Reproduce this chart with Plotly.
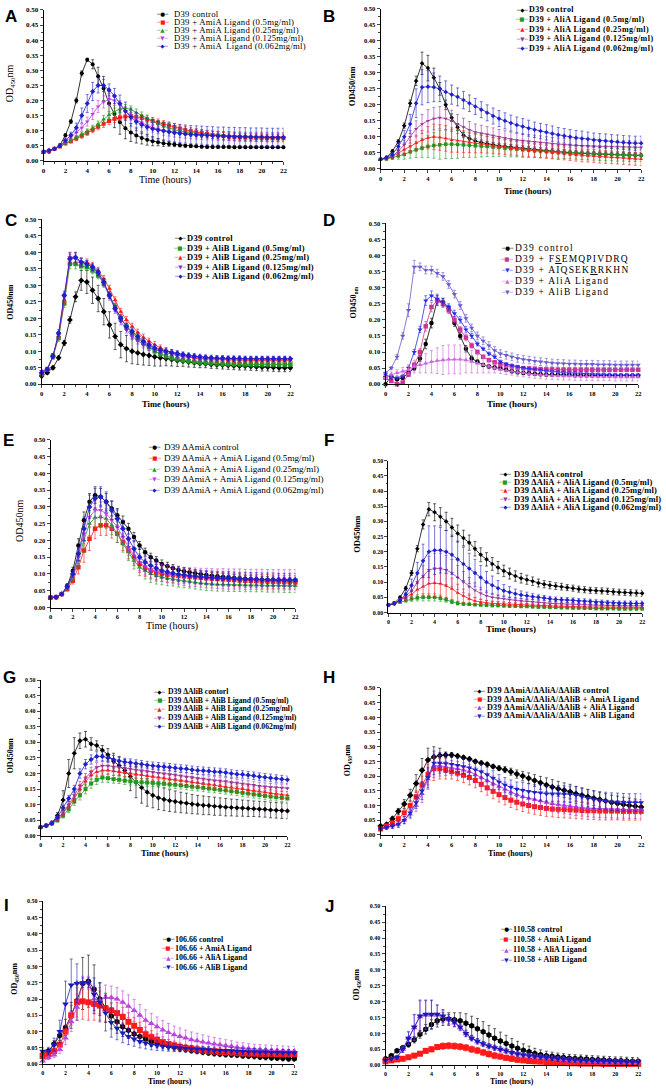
import plotly.graph_objects as go

W, H = 666, 1091
SERIF = "Liberation Serif, Times New Roman, serif"
SANS = "Liberation Sans, Arial, sans-serif"

TIME = [0, 0.5, 1, 1.5, 2, 2.5, 3, 3.5, 4, 4.5,
        5, 5.5, 6, 6.5, 7, 7.5, 8, 8.5, 9, 9.5,
        10, 10.5, 11, 11.5, 12, 12.5, 13, 13.5, 14, 14.5,
        15, 15.5, 16, 16.5, 17, 17.5, 18, 18.5, 19, 19.5,
        20, 20.5, 21, 21.5, 22]
X_TICKS = [0, 2, 4, 6, 8, 10, 12, 14, 16, 18, 20, 22]
Y_TICKS = [0, 0.05, 0.1, 0.15, 0.2, 0.25, 0.3, 0.35, 0.4, 0.45, 0.5]

# ---- panel A: D39 + AmiA ligand
A_CTRL = [0.030, 0.030, 0.040, 0.052, 0.085, 0.130, 0.200, 0.290, 0.335, 0.320,
          0.280, 0.240, 0.190, 0.155, 0.128, 0.108, 0.094, 0.084, 0.076, 0.070,
          0.065, 0.062, 0.058, 0.056, 0.054, 0.052, 0.050, 0.049, 0.048, 0.047,
          0.046, 0.046, 0.046, 0.046, 0.046, 0.045, 0.045, 0.045, 0.045, 0.045,
          0.045, 0.045, 0.045, 0.045, 0.045]
A_RED = [0.030, 0.033, 0.040, 0.048, 0.058, 0.065, 0.074, 0.083, 0.093, 0.103,
         0.113, 0.123, 0.132, 0.139, 0.144, 0.147, 0.148, 0.146, 0.142, 0.137,
         0.132, 0.127, 0.122, 0.117, 0.112, 0.107, 0.102, 0.098, 0.095, 0.092,
         0.089, 0.086, 0.084, 0.082, 0.080, 0.079, 0.078, 0.077, 0.077, 0.076,
         0.076, 0.075, 0.075, 0.075, 0.075]
A_GREEN = [0.030, 0.033, 0.040, 0.048, 0.058, 0.067, 0.077, 0.087, 0.097, 0.108,
           0.122, 0.138, 0.152, 0.163, 0.172, 0.175, 0.170, 0.160, 0.150, 0.140,
           0.130, 0.122, 0.115, 0.108, 0.103, 0.099, 0.096, 0.093, 0.091, 0.089,
           0.087, 0.086, 0.085, 0.084, 0.083, 0.082, 0.081, 0.080, 0.080, 0.079,
           0.079, 0.078, 0.078, 0.078, 0.078]
A_PURPLE = [0.030, 0.033, 0.040, 0.050, 0.063, 0.078, 0.093, 0.110, 0.130, 0.155,
            0.180, 0.195, 0.205, 0.200, 0.185, 0.165, 0.150, 0.137, 0.126, 0.117,
            0.110, 0.105, 0.100, 0.097, 0.094, 0.092, 0.090, 0.088, 0.087, 0.086,
            0.085, 0.084, 0.083, 0.082, 0.082, 0.081, 0.081, 0.080, 0.080, 0.080,
            0.080, 0.080, 0.079, 0.079, 0.079]
A_BLUE = [0.030, 0.035, 0.040, 0.050, 0.068, 0.085, 0.110, 0.150, 0.190, 0.230,
          0.250, 0.250, 0.235, 0.215, 0.190, 0.165, 0.145, 0.130, 0.120, 0.112,
          0.106, 0.102, 0.099, 0.096, 0.093, 0.091, 0.089, 0.087, 0.086, 0.085,
          0.084, 0.083, 0.082, 0.082, 0.081, 0.081, 0.080, 0.080, 0.079, 0.079,
          0.079, 0.078, 0.078, 0.078, 0.078]
A_CTRL_ERR = [0.003, 0.003, 0.003, 0.004, 0.005, 0.006, 0.008, 0.008, 0.005, 0.015,
              0.030, 0.040, 0.040, 0.045, 0.040, 0.035, 0.030, 0.025, 0.020, 0.018,
              0.015, 0.012, 0.010, 0.008, 0.007, 0.006, 0.005, 0.005, 0.004, 0.004,
              0.004, 0.004, 0.004, 0.004, 0.004, 0.004, 0.004, 0.004, 0.004, 0.004,
              0.004, 0.004, 0.004, 0.004, 0.004]
A_LIG_ERR = [0.003, 0.003, 0.004, 0.005, 0.005, 0.006, 0.007, 0.008, 0.009, 0.010,
             0.010, 0.012, 0.012, 0.012, 0.012, 0.012, 0.012, 0.012, 0.012, 0.012,
             0.012, 0.012, 0.012, 0.012, 0.012, 0.012, 0.012, 0.012, 0.012, 0.012,
             0.012, 0.012, 0.012, 0.012, 0.012, 0.012, 0.012, 0.012, 0.012, 0.012,
             0.012, 0.012, 0.012, 0.012, 0.012]
A_PURPLE_ERR = [0.003, 0.003, 0.004, 0.005, 0.006, 0.008, 0.010, 0.012, 0.015, 0.018,
                0.020, 0.020, 0.018, 0.016, 0.015, 0.015, 0.015, 0.015, 0.015, 0.015,
                0.015, 0.015, 0.015, 0.015, 0.015, 0.015, 0.015, 0.015, 0.015, 0.015,
                0.015, 0.015, 0.015, 0.015, 0.015, 0.015, 0.015, 0.015, 0.015, 0.015,
                0.015, 0.015, 0.015, 0.015, 0.015]
A_BLUE_ERR = [0.003, 0.003, 0.004, 0.005, 0.008, 0.010, 0.015, 0.025, 0.030, 0.030,
              0.025, 0.020, 0.020, 0.025, 0.028, 0.030, 0.030, 0.030, 0.030, 0.030,
              0.030, 0.030, 0.030, 0.030, 0.030, 0.030, 0.030, 0.030, 0.030, 0.030,
              0.030, 0.030, 0.030, 0.030, 0.030, 0.030, 0.030, 0.030, 0.030, 0.030,
              0.030, 0.030, 0.030, 0.030, 0.030]

# ---- panel B: D39 + AliA ligand
B_CTRL = [0.030, 0.035, 0.055, 0.085, 0.135, 0.205, 0.275, 0.330, 0.315, 0.285,
          0.250, 0.200, 0.160, 0.130, 0.105, 0.095, 0.087, 0.082, 0.078, 0.075,
          0.072, 0.070, 0.068, 0.066, 0.064, 0.062, 0.060, 0.058, 0.057, 0.056,
          0.054, 0.052, 0.050, 0.049, 0.048, 0.047, 0.046, 0.045, 0.045, 0.044,
          0.044, 0.043, 0.043, 0.042, 0.042]
B_GREEN = [0.030, 0.031, 0.035, 0.040, 0.045, 0.053, 0.060, 0.065, 0.070, 0.073,
           0.075, 0.077, 0.077, 0.076, 0.075, 0.074, 0.072, 0.071, 0.070, 0.068,
           0.067, 0.065, 0.063, 0.062, 0.060, 0.059, 0.057, 0.056, 0.055, 0.054,
           0.053, 0.052, 0.051, 0.050, 0.049, 0.048, 0.047, 0.046, 0.045, 0.045,
           0.044, 0.044, 0.043, 0.043, 0.042]
B_RED = [0.030, 0.032, 0.038, 0.050, 0.060, 0.070, 0.080, 0.090, 0.097, 0.100,
         0.098, 0.095, 0.090, 0.088, 0.085, 0.083, 0.080, 0.078, 0.075, 0.072,
         0.070, 0.068, 0.065, 0.063, 0.060, 0.058, 0.057, 0.055, 0.053, 0.051,
         0.049, 0.048, 0.046, 0.044, 0.042, 0.041, 0.040, 0.038, 0.037, 0.036,
         0.035, 0.034, 0.032, 0.031, 0.030]
B_PURPLE = [0.030, 0.033, 0.040, 0.055, 0.075, 0.100, 0.125, 0.140, 0.150, 0.157,
            0.160, 0.157, 0.150, 0.140, 0.130, 0.122, 0.115, 0.111, 0.108, 0.104,
            0.100, 0.096, 0.093, 0.090, 0.088, 0.086, 0.084, 0.082, 0.080, 0.078,
            0.076, 0.075, 0.074, 0.073, 0.072, 0.071, 0.071, 0.070, 0.070, 0.069,
            0.069, 0.068, 0.068, 0.067, 0.067]
B_BLUE = [0.030, 0.035, 0.045, 0.070, 0.100, 0.140, 0.205, 0.255, 0.257, 0.255,
          0.250, 0.240, 0.232, 0.225, 0.215, 0.205, 0.195, 0.185, 0.175, 0.165,
          0.157, 0.150, 0.143, 0.137, 0.132, 0.127, 0.122, 0.118, 0.114, 0.110,
          0.106, 0.103, 0.100, 0.097, 0.095, 0.093, 0.090, 0.088, 0.087, 0.085,
          0.084, 0.082, 0.081, 0.080, 0.080]
B_CTRL_ERR = [0.003, 0.003, 0.005, 0.006, 0.008, 0.010, 0.015, 0.035, 0.040, 0.030,
              0.020, 0.015, 0.012, 0.010, 0.008, 0.008, 0.008, 0.008, 0.008, 0.008,
              0.008, 0.008, 0.008, 0.008, 0.008, 0.008, 0.008, 0.008, 0.008, 0.008,
              0.008, 0.008, 0.008, 0.008, 0.008, 0.008, 0.008, 0.008, 0.008, 0.008,
              0.008, 0.008, 0.008, 0.008, 0.008]
B_GREEN_ERR = [0.003, 0.004, 0.006, 0.010, 0.015, 0.020, 0.025, 0.030, 0.035, 0.040,
               0.045, 0.045, 0.045, 0.043, 0.040, 0.038, 0.036, 0.034, 0.032, 0.030,
               0.028, 0.027, 0.026, 0.025, 0.024, 0.023, 0.022, 0.022, 0.021, 0.021,
               0.020, 0.020, 0.020, 0.020, 0.020, 0.020, 0.020, 0.020, 0.020, 0.020,
               0.020, 0.020, 0.020, 0.020, 0.020]
B_RED_ERR = [0.003, 0.004, 0.006, 0.010, 0.015, 0.020, 0.025, 0.030, 0.035, 0.040,
             0.040, 0.040, 0.038, 0.036, 0.034, 0.032, 0.030, 0.028, 0.026, 0.025,
             0.024, 0.023, 0.022, 0.022, 0.021, 0.021, 0.020, 0.020, 0.020, 0.020,
             0.020, 0.020, 0.020, 0.020, 0.020, 0.020, 0.020, 0.020, 0.020, 0.020,
             0.020, 0.020, 0.020, 0.020, 0.020]
B_PURPLE_ERR = [0.003, 0.004, 0.006, 0.010, 0.015, 0.020, 0.025, 0.030, 0.035, 0.035,
                0.035, 0.035, 0.033, 0.030, 0.028, 0.026, 0.025, 0.025, 0.024, 0.024,
                0.023, 0.023, 0.022, 0.022, 0.022, 0.021, 0.021, 0.021, 0.020, 0.020,
                0.020, 0.020, 0.020, 0.020, 0.020, 0.020, 0.020, 0.020, 0.020, 0.020,
                0.020, 0.020, 0.020, 0.020, 0.020]
B_BLUE_ERR = [0.003, 0.005, 0.008, 0.012, 0.020, 0.030, 0.045, 0.055, 0.050, 0.045,
              0.040, 0.035, 0.030, 0.028, 0.027, 0.026, 0.025, 0.025, 0.025, 0.025,
              0.025, 0.025, 0.025, 0.025, 0.025, 0.025, 0.024, 0.024, 0.024, 0.024,
              0.023, 0.023, 0.023, 0.023, 0.023, 0.022, 0.022, 0.022, 0.022, 0.022,
              0.022, 0.022, 0.022, 0.022, 0.022]

# ---- panel C: D39 + AliB ligand
C_CTRL = [0.025, 0.035, 0.050, 0.080, 0.125, 0.195, 0.265, 0.315, 0.310, 0.285,
          0.260, 0.220, 0.180, 0.145, 0.120, 0.108, 0.100, 0.095, 0.090, 0.087,
          0.083, 0.080, 0.078, 0.075, 0.072, 0.070, 0.067, 0.065, 0.063, 0.062,
          0.060, 0.059, 0.058, 0.057, 0.056, 0.055, 0.055, 0.054, 0.053, 0.052,
          0.052, 0.051, 0.050, 0.050, 0.050]
C_GREEN = [0.030, 0.045, 0.085, 0.140, 0.245, 0.365, 0.365, 0.358, 0.355, 0.345,
           0.330, 0.305, 0.270, 0.235, 0.200, 0.175, 0.155, 0.140, 0.125, 0.112,
           0.100, 0.092, 0.085, 0.080, 0.076, 0.073, 0.070, 0.068, 0.066, 0.065,
           0.064, 0.063, 0.062, 0.062, 0.061, 0.061, 0.060, 0.060, 0.060, 0.060,
           0.060, 0.060, 0.060, 0.060, 0.060]
C_RED = [0.030, 0.045, 0.085, 0.145, 0.255, 0.385, 0.385, 0.372, 0.370, 0.360,
         0.345, 0.320, 0.290, 0.255, 0.220, 0.195, 0.175, 0.157, 0.142, 0.130,
         0.120, 0.110, 0.102, 0.096, 0.090, 0.086, 0.083, 0.080, 0.078, 0.077,
         0.076, 0.075, 0.075, 0.074, 0.073, 0.073, 0.072, 0.072, 0.072, 0.072,
         0.072, 0.072, 0.072, 0.072, 0.072]
C_PURPLE = [0.040, 0.045, 0.085, 0.150, 0.265, 0.385, 0.380, 0.370, 0.365, 0.355,
            0.335, 0.305, 0.265, 0.225, 0.190, 0.165, 0.145, 0.132, 0.120, 0.112,
            0.105, 0.100, 0.095, 0.091, 0.087, 0.084, 0.082, 0.080, 0.079, 0.078,
            0.077, 0.077, 0.076, 0.076, 0.076, 0.076, 0.076, 0.076, 0.076, 0.076,
            0.076, 0.076, 0.076, 0.076, 0.076]
C_BLUE = [0.035, 0.045, 0.085, 0.155, 0.270, 0.380, 0.385, 0.370, 0.365, 0.355,
          0.340, 0.310, 0.270, 0.230, 0.200, 0.175, 0.160, 0.145, 0.130, 0.120,
          0.110, 0.104, 0.100, 0.096, 0.093, 0.090, 0.087, 0.085, 0.083, 0.081,
          0.080, 0.079, 0.079, 0.078, 0.078, 0.078, 0.077, 0.077, 0.077, 0.077,
          0.077, 0.077, 0.077, 0.077, 0.077]
C_CTRL_ERR = [0.005, 0.005, 0.005, 0.006, 0.008, 0.010, 0.015, 0.030, 0.035, 0.040,
              0.040, 0.040, 0.040, 0.040, 0.040, 0.040, 0.038, 0.035, 0.032, 0.030,
              0.028, 0.025, 0.022, 0.020, 0.018, 0.016, 0.015, 0.014, 0.013, 0.012,
              0.012, 0.012, 0.012, 0.012, 0.012, 0.012, 0.012, 0.012, 0.012, 0.012,
              0.012, 0.012, 0.012, 0.012, 0.012]
C_LIG_ERR = [0.005, 0.006, 0.008, 0.010, 0.012, 0.015, 0.015, 0.012, 0.010, 0.010,
             0.010, 0.010, 0.010, 0.010, 0.010, 0.010, 0.010, 0.010, 0.010, 0.010,
             0.010, 0.009, 0.009, 0.009, 0.009, 0.008, 0.008, 0.008, 0.008, 0.008,
             0.008, 0.008, 0.008, 0.008, 0.008, 0.008, 0.008, 0.008, 0.008, 0.008,
             0.008, 0.008, 0.008, 0.008, 0.008]

# ---- panel D: D39 + peptides
D_CTRL = [0.000, 0.025, 0.015, 0.020, 0.035, 0.050, 0.080, 0.125, 0.190, 0.260,
          0.255, 0.235, 0.190, 0.150, 0.110, 0.080, 0.070, 0.060, 0.055, 0.052,
          0.050, 0.045, 0.040, 0.037, 0.035, 0.034, 0.032, 0.031, 0.030, 0.030,
          0.029, 0.029, 0.029, 0.028, 0.028, 0.028, 0.028, 0.028, 0.027, 0.027,
          0.027, 0.027, 0.027, 0.027, 0.027]
D_FSEM = [0.020, 0.010, 0.000, 0.005, 0.030, 0.060, 0.100, 0.180, 0.240, 0.260,
          0.250, 0.230, 0.200, 0.170, 0.145, 0.120, 0.100, 0.085, 0.075, 0.068,
          0.062, 0.058, 0.055, 0.052, 0.050, 0.049, 0.048, 0.047, 0.046, 0.046,
          0.045, 0.045, 0.045, 0.045, 0.045, 0.045, 0.045, 0.045, 0.045, 0.045,
          0.045, 0.045, 0.045, 0.045, 0.045]
D_AIQS = [0.030, 0.020, 0.020, 0.025, 0.050, 0.100, 0.170, 0.260, 0.275, 0.265,
          0.255, 0.240, 0.220, 0.200, 0.170, 0.150, 0.125, 0.110, 0.095, 0.085,
          0.070, 0.063, 0.058, 0.054, 0.050, 0.047, 0.045, 0.043, 0.040, 0.038,
          0.037, 0.036, 0.035, 0.034, 0.033, 0.032, 0.031, 0.030, 0.030, 0.029,
          0.029, 0.028, 0.028, 0.028, 0.028]
D_ALIA = [0.020, 0.030, 0.035, 0.040, 0.045, 0.055, 0.060, 0.065, 0.070, 0.073,
          0.075, 0.077, 0.077, 0.077, 0.075, 0.070, 0.065, 0.060, 0.055, 0.050,
          0.045, 0.042, 0.040, 0.037, 0.035, 0.032, 0.030, 0.029, 0.028, 0.027,
          0.026, 0.025, 0.025, 0.024, 0.024, 0.024, 0.023, 0.023, 0.023, 0.023,
          0.022, 0.022, 0.022, 0.022, 0.022]
D_ALIB = [0.035, 0.050, 0.085, 0.150, 0.230, 0.365, 0.365, 0.355, 0.355, 0.345,
          0.335, 0.310, 0.280, 0.245, 0.205, 0.175, 0.150, 0.135, 0.120, 0.105,
          0.095, 0.090, 0.085, 0.080, 0.077, 0.075, 0.072, 0.070, 0.068, 0.066,
          0.065, 0.064, 0.063, 0.063, 0.062, 0.062, 0.062, 0.061, 0.061, 0.061,
          0.060, 0.060, 0.060, 0.060, 0.060]
D_PEP_ERR = [0.003, 0.005, 0.005, 0.005, 0.006, 0.008, 0.010, 0.015, 0.015, 0.015,
             0.012, 0.010, 0.010, 0.010, 0.010, 0.008, 0.006, 0.005, 0.005, 0.005,
             0.005, 0.005, 0.005, 0.005, 0.005, 0.005, 0.005, 0.005, 0.005, 0.005,
             0.005, 0.005, 0.005, 0.005, 0.005, 0.005, 0.005, 0.005, 0.005, 0.005,
             0.005, 0.005, 0.005, 0.005, 0.005]
D_ALIA_ERR = [0.005, 0.008, 0.010, 0.012, 0.015, 0.020, 0.025, 0.030, 0.035, 0.040,
              0.045, 0.045, 0.045, 0.045, 0.040, 0.035, 0.030, 0.025, 0.020, 0.015,
              0.012, 0.012, 0.012, 0.012, 0.012, 0.012, 0.012, 0.012, 0.012, 0.012,
              0.012, 0.012, 0.012, 0.012, 0.012, 0.012, 0.012, 0.012, 0.012, 0.012,
              0.012, 0.012, 0.012, 0.012, 0.012]
D_ALIB_ERR = [0.005, 0.005, 0.008, 0.010, 0.020, 0.020, 0.012, 0.012, 0.012, 0.012,
              0.012, 0.012, 0.012, 0.012, 0.012, 0.012, 0.012, 0.012, 0.012, 0.012,
              0.012, 0.012, 0.012, 0.012, 0.012, 0.012, 0.012, 0.012, 0.012, 0.012,
              0.012, 0.012, 0.012, 0.012, 0.012, 0.012, 0.012, 0.012, 0.012, 0.012,
              0.012, 0.012, 0.012, 0.012, 0.012]

# ---- panel E: D39 dAmiA + AmiA ligand
E_CTRL = [0.030, 0.031, 0.040, 0.065, 0.110, 0.185, 0.260, 0.315, 0.335, 0.330,
          0.315, 0.295, 0.275, 0.255, 0.235, 0.210, 0.185, 0.165, 0.150, 0.140,
          0.130, 0.123, 0.117, 0.112, 0.108, 0.105, 0.102, 0.099, 0.097, 0.095,
          0.093, 0.091, 0.090, 0.088, 0.087, 0.086, 0.085, 0.084, 0.083, 0.082,
          0.081, 0.080, 0.080, 0.079, 0.078]
E_RED = [0.030, 0.031, 0.040, 0.055, 0.080, 0.120, 0.170, 0.205, 0.235, 0.245,
         0.245, 0.235, 0.220, 0.195, 0.170, 0.150, 0.130, 0.118, 0.110, 0.104,
         0.100, 0.098, 0.096, 0.094, 0.093, 0.091, 0.090, 0.089, 0.087, 0.086,
         0.085, 0.084, 0.083, 0.082, 0.081, 0.080, 0.080, 0.079, 0.078, 0.078,
         0.077, 0.077, 0.076, 0.076, 0.075]
E_GREEN = [0.030, 0.031, 0.040, 0.058, 0.090, 0.140, 0.200, 0.250, 0.268, 0.270,
           0.265, 0.245, 0.220, 0.190, 0.165, 0.140, 0.120, 0.110, 0.100, 0.095,
           0.090, 0.087, 0.085, 0.082, 0.080, 0.078, 0.075, 0.073, 0.071, 0.070,
           0.069, 0.069, 0.068, 0.068, 0.068, 0.067, 0.067, 0.067, 0.067, 0.066,
           0.066, 0.066, 0.065, 0.065, 0.065]
E_PURPLE = [0.030, 0.031, 0.040, 0.060, 0.095, 0.150, 0.220, 0.270, 0.290, 0.290,
            0.280, 0.260, 0.240, 0.210, 0.180, 0.155, 0.135, 0.122, 0.113, 0.108,
            0.103, 0.100, 0.097, 0.095, 0.093, 0.091, 0.090, 0.089, 0.088, 0.087,
            0.086, 0.086, 0.085, 0.085, 0.085, 0.084, 0.084, 0.084, 0.084, 0.083,
            0.083, 0.083, 0.083, 0.083, 0.083]
E_BLUE = [0.030, 0.031, 0.040, 0.062, 0.100, 0.160, 0.235, 0.300, 0.325, 0.330,
          0.315, 0.290, 0.265, 0.235, 0.205, 0.175, 0.150, 0.135, 0.125, 0.117,
          0.110, 0.106, 0.102, 0.099, 0.097, 0.095, 0.093, 0.091, 0.090, 0.089,
          0.088, 0.087, 0.087, 0.086, 0.085, 0.085, 0.084, 0.084, 0.083, 0.083,
          0.083, 0.082, 0.082, 0.082, 0.082]
E_CTRL_ERR = [0.003, 0.003, 0.004, 0.006, 0.010, 0.020, 0.025, 0.025, 0.025, 0.025,
              0.025, 0.022, 0.020, 0.018, 0.016, 0.014, 0.012, 0.012, 0.012, 0.012,
              0.012, 0.012, 0.011, 0.011, 0.011, 0.011, 0.010, 0.010, 0.010, 0.010,
              0.010, 0.010, 0.010, 0.010, 0.010, 0.010, 0.010, 0.010, 0.010, 0.010,
              0.010, 0.010, 0.010, 0.010, 0.010]
E_LIG_ERR = [0.003, 0.003, 0.004, 0.006, 0.010, 0.020, 0.035, 0.035, 0.030, 0.030,
             0.030, 0.028, 0.026, 0.025, 0.025, 0.025, 0.025, 0.025, 0.025, 0.025,
             0.022, 0.022, 0.021, 0.021, 0.021, 0.020, 0.020, 0.020, 0.020, 0.020,
             0.020, 0.020, 0.020, 0.020, 0.020, 0.020, 0.020, 0.020, 0.020, 0.020,
             0.020, 0.020, 0.020, 0.020, 0.020]
E_PURPLE_ERR = [0.003, 0.003, 0.004, 0.006, 0.010, 0.020, 0.030, 0.030, 0.025, 0.025,
                0.025, 0.025, 0.025, 0.025, 0.025, 0.025, 0.025, 0.025, 0.025, 0.025,
                0.025, 0.026, 0.026, 0.027, 0.027, 0.028, 0.028, 0.028, 0.029, 0.029,
                0.029, 0.030, 0.030, 0.030, 0.030, 0.030, 0.030, 0.030, 0.030, 0.030,
                0.030, 0.030, 0.030, 0.030, 0.030]

# ---- panel F: D39 dAliA + AliA ligand
F_CTRL = [0.025, 0.030, 0.050, 0.080, 0.130, 0.210, 0.290, 0.340, 0.330, 0.315,
          0.300, 0.280, 0.260, 0.245, 0.230, 0.210, 0.190, 0.175, 0.160, 0.148,
          0.137, 0.128, 0.120, 0.113, 0.108, 0.103, 0.097, 0.093, 0.090, 0.087,
          0.085, 0.082, 0.080, 0.077, 0.075, 0.073, 0.072, 0.071, 0.070, 0.068,
          0.067, 0.066, 0.065, 0.064, 0.063]
F_GREEN = [0.025, 0.030, 0.035, 0.040, 0.045, 0.048, 0.050, 0.050, 0.050, 0.047,
           0.042, 0.035, 0.030, 0.028, 0.027, 0.026, 0.025, 0.024, 0.023, 0.023,
           0.022, 0.021, 0.021, 0.020, 0.020, 0.019, 0.018, 0.018, 0.017, 0.017,
           0.016, 0.016, 0.015, 0.015, 0.014, 0.014, 0.013, 0.013, 0.013, 0.013,
           0.012, 0.012, 0.012, 0.012, 0.012]
F_RED = [0.025, 0.030, 0.040, 0.050, 0.060, 0.075, 0.085, 0.095, 0.097, 0.095,
         0.088, 0.078, 0.065, 0.055, 0.045, 0.038, 0.034, 0.032, 0.030, 0.029,
         0.028, 0.027, 0.026, 0.025, 0.025, 0.024, 0.023, 0.022, 0.022, 0.021,
         0.021, 0.020, 0.020, 0.019, 0.019, 0.018, 0.018, 0.018, 0.017, 0.017,
         0.017, 0.017, 0.017, 0.017, 0.017]
F_PURPLE = [0.025, 0.030, 0.040, 0.055, 0.070, 0.100, 0.120, 0.140, 0.145, 0.145,
            0.140, 0.130, 0.115, 0.100, 0.085, 0.073, 0.063, 0.055, 0.050, 0.047,
            0.045, 0.042, 0.040, 0.038, 0.037, 0.035, 0.033, 0.032, 0.030, 0.029,
            0.028, 0.027, 0.027, 0.026, 0.025, 0.025, 0.024, 0.024, 0.023, 0.023,
            0.023, 0.022, 0.022, 0.022, 0.022]
F_BLUE = [0.025, 0.030, 0.040, 0.060, 0.090, 0.130, 0.170, 0.200, 0.205, 0.205,
          0.200, 0.190, 0.175, 0.160, 0.145, 0.130, 0.115, 0.100, 0.090, 0.080,
          0.072, 0.067, 0.062, 0.058, 0.055, 0.052, 0.050, 0.048, 0.045, 0.043,
          0.042, 0.041, 0.040, 0.038, 0.037, 0.036, 0.034, 0.033, 0.032, 0.031,
          0.030, 0.030, 0.030, 0.030, 0.030]
F_CTRL_ERR = [0.003, 0.003, 0.004, 0.006, 0.008, 0.010, 0.015, 0.022, 0.028, 0.030,
              0.030, 0.030, 0.028, 0.026, 0.025, 0.024, 0.023, 0.022, 0.021, 0.020,
              0.019, 0.018, 0.017, 0.016, 0.015, 0.014, 0.013, 0.012, 0.012, 0.011,
              0.011, 0.010, 0.010, 0.010, 0.010, 0.010, 0.010, 0.010, 0.010, 0.010,
              0.010, 0.010, 0.010, 0.010, 0.010]
F_GREEN_ERR = [0.003, 0.004, 0.005, 0.006, 0.008, 0.010, 0.012, 0.012, 0.012, 0.010,
               0.008, 0.006, 0.005, 0.005, 0.004, 0.004, 0.004, 0.004, 0.004, 0.004,
               0.004, 0.004, 0.004, 0.004, 0.004, 0.004, 0.004, 0.004, 0.004, 0.004,
               0.004, 0.004, 0.004, 0.004, 0.004, 0.004, 0.004, 0.004, 0.004, 0.004,
               0.004, 0.004, 0.004, 0.004, 0.004]
F_RED_ERR = [0.003, 0.004, 0.006, 0.010, 0.015, 0.025, 0.030, 0.040, 0.045, 0.045,
             0.040, 0.035, 0.028, 0.022, 0.016, 0.012, 0.010, 0.008, 0.007, 0.006,
             0.006, 0.006, 0.006, 0.006, 0.005, 0.005, 0.005, 0.005, 0.005, 0.005,
             0.005, 0.005, 0.005, 0.005, 0.005, 0.005, 0.005, 0.005, 0.005, 0.005,
             0.005, 0.005, 0.005, 0.005, 0.005]
F_PURPLE_ERR = [0.003, 0.004, 0.006, 0.010, 0.015, 0.025, 0.035, 0.045, 0.050, 0.050,
                0.048, 0.045, 0.040, 0.035, 0.030, 0.025, 0.020, 0.016, 0.013, 0.011,
                0.010, 0.009, 0.009, 0.008, 0.008, 0.008, 0.007, 0.007, 0.007, 0.007,
                0.006, 0.006, 0.006, 0.006, 0.006, 0.006, 0.006, 0.006, 0.006, 0.006,
                0.006, 0.006, 0.006, 0.006, 0.006]
F_BLUE_ERR = [0.003, 0.005, 0.008, 0.012, 0.020, 0.035, 0.055, 0.085, 0.080, 0.075,
              0.070, 0.065, 0.060, 0.055, 0.050, 0.045, 0.040, 0.035, 0.030, 0.025,
              0.020, 0.018, 0.015, 0.013, 0.012, 0.010, 0.008, 0.008, 0.008, 0.008,
              0.008, 0.008, 0.008, 0.008, 0.008, 0.008, 0.008, 0.008, 0.008, 0.008,
              0.008, 0.008, 0.008, 0.008, 0.008]

# ---- panel G: D39 dAliB + AliB ligand
G_CTRL = [0.028, 0.033, 0.042, 0.065, 0.115, 0.200, 0.265, 0.305, 0.310, 0.295,
          0.290, 0.275, 0.260, 0.240, 0.225, 0.210, 0.190, 0.172, 0.155, 0.140,
          0.130, 0.122, 0.117, 0.113, 0.110, 0.107, 0.105, 0.102, 0.100, 0.098,
          0.097, 0.095, 0.094, 0.092, 0.091, 0.090, 0.089, 0.088, 0.087, 0.086,
          0.085, 0.083, 0.082, 0.081, 0.080]
G_GREEN = [0.028, 0.033, 0.040, 0.050, 0.065, 0.085, 0.110, 0.130, 0.150, 0.168,
           0.180, 0.187, 0.185, 0.182, 0.180, 0.177, 0.175, 0.173, 0.172, 0.171,
           0.170, 0.168, 0.167, 0.165, 0.164, 0.162, 0.160, 0.158, 0.156, 0.154,
           0.152, 0.150, 0.148, 0.146, 0.143, 0.141, 0.138, 0.136, 0.133, 0.131,
           0.128, 0.126, 0.124, 0.122, 0.120]
G_RED = [0.028, 0.033, 0.040, 0.052, 0.072, 0.095, 0.120, 0.150, 0.175, 0.195,
         0.205, 0.210, 0.210, 0.207, 0.205, 0.202, 0.200, 0.197, 0.195, 0.192,
         0.190, 0.187, 0.185, 0.182, 0.180, 0.177, 0.175, 0.172, 0.170, 0.167,
         0.165, 0.162, 0.160, 0.157, 0.155, 0.152, 0.150, 0.147, 0.145, 0.142,
         0.140, 0.137, 0.135, 0.132, 0.130]
G_PURPLE = [0.028, 0.033, 0.040, 0.055, 0.075, 0.100, 0.130, 0.160, 0.185, 0.205,
            0.220, 0.225, 0.225, 0.222, 0.220, 0.218, 0.215, 0.212, 0.210, 0.207,
            0.205, 0.202, 0.200, 0.198, 0.196, 0.193, 0.190, 0.188, 0.185, 0.183,
            0.180, 0.178, 0.177, 0.175, 0.172, 0.170, 0.167, 0.165, 0.163, 0.160,
            0.158, 0.156, 0.155, 0.154, 0.153]
G_BLUE = [0.028, 0.033, 0.040, 0.060, 0.090, 0.120, 0.150, 0.200, 0.230, 0.245,
          0.255, 0.255, 0.250, 0.245, 0.240, 0.237, 0.235, 0.232, 0.230, 0.227,
          0.225, 0.223, 0.222, 0.220, 0.218, 0.216, 0.215, 0.212, 0.210, 0.209,
          0.208, 0.206, 0.205, 0.203, 0.200, 0.198, 0.197, 0.195, 0.193, 0.190,
          0.188, 0.186, 0.184, 0.182, 0.180]
G_CTRL_ERR = [0.003, 0.004, 0.005, 0.010, 0.030, 0.045, 0.050, 0.025, 0.025, 0.020,
              0.015, 0.015, 0.020, 0.025, 0.030, 0.035, 0.045, 0.050, 0.050, 0.045,
              0.040, 0.038, 0.036, 0.035, 0.034, 0.033, 0.032, 0.031, 0.030, 0.030,
              0.029, 0.029, 0.028, 0.028, 0.027, 0.027, 0.026, 0.026, 0.025, 0.025,
              0.025, 0.025, 0.025, 0.025, 0.025]
G_LIG_ERR = [0.003, 0.003, 0.004, 0.006, 0.008, 0.010, 0.012, 0.015, 0.015, 0.015,
             0.015, 0.015, 0.014, 0.013, 0.012, 0.012, 0.012, 0.012, 0.012, 0.012,
             0.012, 0.012, 0.012, 0.012, 0.012, 0.012, 0.012, 0.012, 0.012, 0.012,
             0.012, 0.012, 0.012, 0.012, 0.012, 0.012, 0.012, 0.012, 0.012, 0.012,
             0.012, 0.012, 0.012, 0.012, 0.012]

# ---- panel H: triple mutant
H_CTRL = [0.030, 0.035, 0.055, 0.080, 0.105, 0.135, 0.175, 0.220, 0.255, 0.265,
          0.270, 0.272, 0.272, 0.268, 0.263, 0.258, 0.250, 0.245, 0.240, 0.233,
          0.227, 0.222, 0.215, 0.207, 0.200, 0.193, 0.185, 0.177, 0.170, 0.163,
          0.157, 0.152, 0.147, 0.140, 0.135, 0.130, 0.125, 0.120, 0.115, 0.110,
          0.107, 0.103, 0.100, 0.097, 0.095]
H_RED = [0.020, 0.030, 0.040, 0.055, 0.075, 0.100, 0.130, 0.170, 0.205, 0.225,
         0.225, 0.220, 0.215, 0.210, 0.203, 0.195, 0.185, 0.172, 0.160, 0.148,
         0.137, 0.127, 0.118, 0.111, 0.105, 0.100, 0.096, 0.093, 0.090, 0.088,
         0.087, 0.086, 0.085, 0.084, 0.083, 0.082, 0.082, 0.081, 0.081, 0.081,
         0.081, 0.080, 0.080, 0.080, 0.080]
H_PURPLE = [0.020, 0.025, 0.030, 0.035, 0.050, 0.070, 0.100, 0.140, 0.190, 0.235,
            0.235, 0.232, 0.228, 0.225, 0.220, 0.215, 0.205, 0.195, 0.185, 0.175,
            0.165, 0.155, 0.145, 0.137, 0.130, 0.125, 0.120, 0.115, 0.110, 0.106,
            0.103, 0.100, 0.097, 0.095, 0.093, 0.091, 0.090, 0.089, 0.088, 0.088,
            0.087, 0.087, 0.086, 0.086, 0.085]
H_BLUE = [0.020, 0.025, 0.030, 0.037, 0.050, 0.075, 0.110, 0.150, 0.195, 0.245,
          0.245, 0.243, 0.240, 0.237, 0.233, 0.228, 0.222, 0.215, 0.205, 0.193,
          0.180, 0.170, 0.162, 0.155, 0.152, 0.148, 0.145, 0.143, 0.140, 0.140,
          0.140, 0.139, 0.138, 0.135, 0.130, 0.125, 0.120, 0.117, 0.115, 0.113,
          0.112, 0.111, 0.110, 0.110, 0.110]
H_CTRL_ERR = [0.005, 0.005, 0.008, 0.010, 0.015, 0.020, 0.030, 0.040, 0.040, 0.035,
              0.025, 0.010, 0.008, 0.006, 0.006, 0.006, 0.006, 0.006, 0.006, 0.006,
              0.008, 0.010, 0.012, 0.014, 0.016, 0.018, 0.020, 0.022, 0.024, 0.025,
              0.025, 0.025, 0.025, 0.025, 0.025, 0.025, 0.025, 0.025, 0.025, 0.025,
              0.025, 0.025, 0.025, 0.025, 0.025]
H_LIG_ERR = [0.005, 0.006, 0.008, 0.010, 0.012, 0.015, 0.020, 0.030, 0.035, 0.040,
             0.035, 0.030, 0.025, 0.025, 0.025, 0.025, 0.025, 0.025, 0.025, 0.025,
             0.025, 0.025, 0.025, 0.025, 0.026, 0.026, 0.026, 0.027, 0.027, 0.027,
             0.028, 0.028, 0.028, 0.029, 0.029, 0.029, 0.030, 0.030, 0.030, 0.030,
             0.030, 0.030, 0.030, 0.030, 0.030]

# ---- panel I: strain 106.66
I_CTRL = [0.030, 0.040, 0.062, 0.088, 0.113, 0.150, 0.195, 0.248, 0.255, 0.230,
          0.200, 0.173, 0.148, 0.130, 0.115, 0.104, 0.093, 0.085, 0.077, 0.070,
          0.065, 0.060, 0.056, 0.052, 0.048, 0.045, 0.042, 0.040, 0.037, 0.035,
          0.033, 0.031, 0.030, 0.029, 0.028, 0.026, 0.025, 0.024, 0.022, 0.021,
          0.020, 0.019, 0.018, 0.017, 0.017]
I_RED = [0.025, 0.030, 0.040, 0.060, 0.100, 0.150, 0.190, 0.193, 0.190, 0.185,
         0.180, 0.172, 0.165, 0.157, 0.145, 0.130, 0.118, 0.105, 0.092, 0.083,
         0.075, 0.068, 0.062, 0.058, 0.053, 0.050, 0.048, 0.045, 0.043, 0.041,
         0.040, 0.038, 0.037, 0.036, 0.035, 0.034, 0.033, 0.033, 0.032, 0.032,
         0.032, 0.031, 0.031, 0.031, 0.031]
I_ALIA = [0.010, 0.020, 0.028, 0.045, 0.080, 0.130, 0.175, 0.250, 0.250, 0.200,
          0.195, 0.205, 0.205, 0.200, 0.190, 0.178, 0.165, 0.150, 0.135, 0.125,
          0.115, 0.105, 0.097, 0.090, 0.085, 0.080, 0.075, 0.072, 0.068, 0.065,
          0.062, 0.060, 0.057, 0.055, 0.052, 0.050, 0.048, 0.046, 0.045, 0.044,
          0.043, 0.042, 0.041, 0.040, 0.040]
I_ALIB = [0.040, 0.040, 0.060, 0.100, 0.185, 0.243, 0.248, 0.250, 0.250, 0.215,
          0.190, 0.157, 0.128, 0.110, 0.096, 0.085, 0.077, 0.070, 0.065, 0.060,
          0.057, 0.055, 0.053, 0.051, 0.050, 0.048, 0.047, 0.046, 0.045, 0.044,
          0.043, 0.042, 0.042, 0.041, 0.040, 0.039, 0.038, 0.038, 0.037, 0.037,
          0.036, 0.036, 0.035, 0.035, 0.035]
I_CTRL_ERR = [0.005, 0.008, 0.010, 0.015, 0.025, 0.040, 0.060, 0.080, 0.080, 0.075,
              0.050, 0.045, 0.040, 0.035, 0.030, 0.025, 0.022, 0.020, 0.018, 0.016,
              0.015, 0.013, 0.012, 0.011, 0.010, 0.008, 0.008, 0.008, 0.008, 0.008,
              0.008, 0.008, 0.008, 0.008, 0.008, 0.008, 0.008, 0.008, 0.008, 0.008,
              0.008, 0.008, 0.008, 0.008, 0.008]
I_RED_ERR = [0.005, 0.006, 0.008, 0.012, 0.020, 0.030, 0.045, 0.055, 0.055, 0.050,
             0.045, 0.040, 0.035, 0.032, 0.030, 0.028, 0.026, 0.024, 0.022, 0.020,
             0.018, 0.016, 0.014, 0.013, 0.012, 0.011, 0.010, 0.010, 0.010, 0.010,
             0.010, 0.010, 0.010, 0.010, 0.010, 0.010, 0.010, 0.010, 0.010, 0.010,
             0.010, 0.010, 0.010, 0.010, 0.010]
I_ALIA_ERR = [0.005, 0.006, 0.008, 0.012, 0.020, 0.030, 0.040, 0.020, 0.020, 0.040,
              0.040, 0.038, 0.035, 0.035, 0.035, 0.035, 0.034, 0.033, 0.032, 0.031,
              0.030, 0.029, 0.028, 0.027, 0.026, 0.025, 0.024, 0.023, 0.022, 0.021,
              0.020, 0.019, 0.018, 0.017, 0.016, 0.016, 0.015, 0.015, 0.015, 0.015,
              0.015, 0.015, 0.015, 0.015, 0.015]
I_ALIB_ERR = [0.010, 0.012, 0.020, 0.035, 0.070, 0.080, 0.060, 0.015, 0.015, 0.050,
              0.060, 0.055, 0.045, 0.035, 0.030, 0.025, 0.022, 0.020, 0.018, 0.016,
              0.015, 0.014, 0.013, 0.012, 0.011, 0.010, 0.010, 0.010, 0.010, 0.010,
              0.010, 0.010, 0.010, 0.010, 0.010, 0.010, 0.010, 0.010, 0.010, 0.010,
              0.010, 0.010, 0.010, 0.010, 0.010]

# ---- panel J: strain 110.58
J_CTRL = [0.020, 0.030, 0.045, 0.055, 0.065, 0.080, 0.097, 0.113, 0.128, 0.140,
          0.145, 0.145, 0.143, 0.140, 0.132, 0.124, 0.115, 0.105, 0.095, 0.085,
          0.076, 0.068, 0.060, 0.053, 0.047, 0.042, 0.037, 0.033, 0.030, 0.028,
          0.026, 0.024, 0.022, 0.021, 0.020, 0.019, 0.018, 0.017, 0.016, 0.015,
          0.014, 0.014, 0.013, 0.012, 0.012]
J_RED = [0.012, 0.015, 0.018, 0.020, 0.025, 0.030, 0.036, 0.045, 0.050, 0.057,
         0.060, 0.061, 0.060, 0.058, 0.055, 0.050, 0.046, 0.040, 0.035, 0.030,
         0.027, 0.023, 0.020, 0.017, 0.015, 0.013, 0.012, 0.011, 0.010, 0.009,
         0.008, 0.007, 0.006, 0.006, 0.005, 0.005, 0.005, 0.005, 0.004, 0.004,
         0.004, 0.004, 0.004, 0.004, 0.004]
J_ALIA = [0.015, 0.020, 0.025, 0.050, 0.085, 0.118, 0.152, 0.158, 0.158, 0.158,
          0.153, 0.143, 0.133, 0.118, 0.099, 0.084, 0.074, 0.066, 0.059, 0.054,
          0.049, 0.044, 0.039, 0.035, 0.032, 0.029, 0.027, 0.025, 0.023, 0.021,
          0.019, 0.018, 0.016, 0.015, 0.014, 0.013, 0.012, 0.012, 0.011, 0.011,
          0.010, 0.010, 0.009, 0.009, 0.009]
J_ALIB = [0.015, 0.020, 0.025, 0.050, 0.085, 0.120, 0.155, 0.160, 0.160, 0.160,
          0.155, 0.145, 0.135, 0.120, 0.100, 0.085, 0.075, 0.067, 0.060, 0.055,
          0.050, 0.045, 0.040, 0.036, 0.033, 0.030, 0.028, 0.026, 0.024, 0.022,
          0.020, 0.019, 0.017, 0.016, 0.015, 0.014, 0.013, 0.013, 0.012, 0.012,
          0.011, 0.011, 0.010, 0.010, 0.010]
J_CTRL_ERR = [0.005, 0.005, 0.005, 0.005, 0.008, 0.010, 0.012, 0.015, 0.015, 0.020,
              0.020, 0.020, 0.022, 0.025, 0.030, 0.030, 0.032, 0.032, 0.030, 0.030,
              0.028, 0.026, 0.024, 0.022, 0.020, 0.018, 0.016, 0.015, 0.014, 0.013,
              0.012, 0.012, 0.012, 0.012, 0.012, 0.012, 0.012, 0.012, 0.012, 0.012,
              0.012, 0.012, 0.012, 0.012, 0.012]
J_RED_ERR = [0.003, 0.003, 0.004, 0.004, 0.005, 0.005, 0.006, 0.006, 0.008, 0.008,
             0.010, 0.010, 0.010, 0.010, 0.010, 0.010, 0.010, 0.010, 0.010, 0.010,
             0.008, 0.008, 0.008, 0.008, 0.007, 0.007, 0.006, 0.006, 0.005, 0.005,
             0.005, 0.005, 0.005, 0.005, 0.005, 0.005, 0.005, 0.005, 0.005, 0.005,
             0.005, 0.005, 0.005, 0.005, 0.005]
J_ALIB_ERR = [0.003, 0.003, 0.005, 0.010, 0.020, 0.040, 0.050, 0.045, 0.045, 0.030,
              0.020, 0.015, 0.012, 0.010, 0.010, 0.008, 0.008, 0.008, 0.008, 0.008,
              0.008, 0.008, 0.008, 0.008, 0.008, 0.008, 0.008, 0.008, 0.008, 0.008,
              0.008, 0.008, 0.008, 0.008, 0.008, 0.008, 0.008, 0.008, 0.008, 0.008,
              0.008, 0.008, 0.008, 0.008, 0.008]

BLACK = "#000000"
RED = "#ff1a1a"
GREEN = "#1f9a1f"
VIOLET = "#c040e8"
PLUM = "#993399"
BLUE = "#2020c8"
MAGENTA = "#cc3399"
LILAC = "#cc66dd"
SLATE = "#6a5acd"

GLYPH = {"circle": "●", "square": "■", "triangle-up": "▲",
         "triangle-down": "▼", "diamond": "◆", "hexagon": "●"}

U = "<span style='text-decoration:underline'>{}</span>"

# box = (x left, x right, y top, y bottom) of the plotting area, in pixels
# legend = (symbol x, text x, first row y, row step, font size, letter spacing)
PANELS = [
    dict(letter="A", letter_xy=(9, 13), box=(42, 284, 6, 158), bold=False, tick=7,
         ytitle=("OD<sub>450</sub>nm", 8, 80, 10), xtitle=(164, 177, 10),
         legend=(162, 173, 10, 8, 8.7, 0.25), msize=4,
         series=[("D39 control", A_CTRL, A_CTRL_ERR, BLACK, "circle"),
                 ("D39 + AmiA Ligand (0.5mg/ml)", A_RED, A_LIG_ERR, RED, "square"),
                 ("D39 + AmiA Ligand (0.25mg/ml)", A_GREEN, A_LIG_ERR, GREEN, "triangle-up"),
                 ("D39 + AmiA Ligand (0.125mg/ml)", A_PURPLE, A_PURPLE_ERR, VIOLET, "triangle-down"),
                 ("D39 + AmiA  Ligand (0.062mg/ml)", A_BLUE, A_BLUE_ERR, BLUE, "diamond")]),
    dict(letter="B", letter_xy=(330, 13), box=(382, 645, 5, 166), bold=True, tick=6.5,
         ytitle=("OD450/nm", 354, 83, 8.5), xtitle=(530, 188, 8.5),
         legend=(525, 531, 6, 9.6, 8, 0.45), msize=3.5,
         series=[("D39 control", B_CTRL, B_CTRL_ERR, BLACK, "diamond"),
                 ("D39 + AliA Ligand (0.5mg/ml)", B_GREEN, B_GREEN_ERR, GREEN, "square"),
                 ("D39 + AliA Ligand (0.25mg/ml)", B_RED, B_RED_ERR, RED, "triangle-up"),
                 ("D39 + AliA Ligand (0.125mg/ml)", B_PURPLE, B_PURPLE_ERR, PLUM, "triangle-down"),
                 ("D39 + AliA Ligand (0.062mg/ml)", B_BLUE, B_BLUE_ERR, BLUE, "diamond")]),
    dict(letter="C", letter_xy=(9, 218), box=(40, 291, 217, 383), bold=True, tick=6.5,
         ytitle=("OD450nm", 9, 300, 8), xtitle=(165, 403, 8.5),
         legend=(180, 186, 236, 9.6, 8.5, 0.3), msize=4.5,
         series=[("D39 control", C_CTRL, C_CTRL_ERR, BLACK, "diamond"),
                 ("D39 + AliB Ligand (0.5mg/ml)", C_GREEN, C_LIG_ERR, GREEN, "square"),
                 ("D39 + AliB Ligand (0.25mg/ml)", C_RED, C_LIG_ERR, RED, "triangle-up"),
                 ("D39 + AliB Ligand (0.125mg/ml)", C_PURPLE, C_LIG_ERR, "#8a2be2", "triangle-down"),
                 ("D39 + AliB Ligand (0.062mg/ml)", C_BLUE, C_LIG_ERR, BLUE, "diamond")]),
    dict(letter="D", letter_xy=(330, 218), box=(387, 642, 221, 383), bold=True, tick=6.5,
         ytitle=("OD450<sub>nm</sub>", 355, 301, 8), xtitle=(515, 403, 9),
         legend=(510, 517, 246, 11, 9.5, 1.2), msize=4.5, legend_bold=False,
         series=[("D39 control", D_CTRL, D_PEP_ERR, BLACK, "circle"),
                 ("D39 + F" + U.format("S") + "EMQPIVDRQ", D_FSEM, D_PEP_ERR, MAGENTA, "square"),
                 ("D39 + AIQSEK" + U.format("R") + "RKHN", D_AIQS, D_PEP_ERR, "#2a2aee", "triangle-down"),
                 ("D39 + AliA Ligand", D_ALIA, D_ALIA_ERR, LILAC, "triangle-up"),
                 ("D39 + AliB Ligand", D_ALIB, D_ALIB_ERR, SLATE, "triangle-down")]),
    dict(letter="E", letter_xy=(7, 440), box=(49, 296, 439, 608), bold=False, tick=6.5,
         ytitle=("OD450nm", 17, 521, 10), xtitle=(172, 627, 10),
         legend=(154, 162, 446, 11, 9.2, 0), msize=4.5,
         series=[("D39 ΔAmiA control", E_CTRL, E_CTRL_ERR, BLACK, "circle"),
                 ("D39 ΔAmiA + AmiA Ligand (0.5mg/ml)", E_RED, E_LIG_ERR, RED, "square"),
                 ("D39 ΔAmiA + AmiA Ligand (0.25mg/ml)", E_GREEN, E_LIG_ERR, GREEN, "triangle-up"),
                 ("D39 ΔAmiA + AmiA Ligand (0.125mg/ml)", E_PURPLE, E_PURPLE_ERR, VIOLET, "triangle-down"),
                 ("D39 ΔAmiA + AmiA Ligand (0.062mg/ml)", E_BLUE, E_LIG_ERR, BLUE, "diamond")]),
    dict(letter="F", letter_xy=(330, 440), box=(390, 646, 460, 613), bold=True, tick=6,
         ytitle=("OD450nm", 358, 534, 8.5), xtitle=(514, 630, 9),
         legend=(508, 516, 473, 8.5, 8.5, 0.15), msize=3.5,
         series=[("D39 ΔAliA control", F_CTRL, F_CTRL_ERR, BLACK, "diamond"),
                 ("D39 ΔAliA + AliA Ligand (0.5mg/ml)", F_GREEN, F_GREEN_ERR, GREEN, "square"),
                 ("D39 ΔAliA + AliA Ligand (0.25mg/ml)", F_RED, F_RED_ERR, RED, "triangle-up"),
                 ("D39 ΔAliA + AliA Ligand (0.125mg/ml)", F_PURPLE, F_PURPLE_ERR, PLUM, "triangle-down"),
                 ("D39 ΔAliA + AliA Ligand (0.062mg/ml)", F_BLUE, F_BLUE_ERR, BLUE, "diamond")]),
    dict(letter="G", letter_xy=(8, 678), box=(39, 288, 681, 838), bold=True, tick=6,
         ytitle=("OD450nm", 9, 757, 8), xtitle=(164, 855, 8.5),
         legend=(159, 166, 693, 8.6, 7.7, 0), msize=4,
         series=[("D39 ΔAliB contorl", G_CTRL, G_CTRL_ERR, BLACK, "diamond"),
                 ("D39 ΔAliB + AliB Ligand (0.5mg/ml)", G_GREEN, G_LIG_ERR, GREEN, "square"),
                 ("D39 ΔAliB + AliB Ligand (0.25mg/ml)", G_RED, G_LIG_ERR, RED, "triangle-up"),
                 ("D39 ΔAliB + AliB Ligand (0.125mg/ml)", G_PURPLE, G_LIG_ERR, PLUM, "triangle-down"),
                 ("D39 ΔAliB + AliB Ligand (0.062mg/ml)", G_BLUE, G_LIG_ERR, BLUE, "diamond")]),
    dict(letter="H", letter_xy=(330, 678), box=(382, 645, 689, 837), bold=True, tick=6.5,
         ytitle=("OD<sub>450</sub>nm", 350, 762, 8), xtitle=(513, 856, 8),
         legend=(482, 488, 692, 8.3, 8.2, 0.2), msize=5,
         series=[("D39 ΔAmiA/ΔAliA/ΔAliB control", H_CTRL, H_CTRL_ERR, BLACK, "diamond"),
                 ("D39 ΔAmiA/ΔAliA/ΔAliB + AmiA Ligand", H_RED, H_LIG_ERR, RED, "square"),
                 ("D39 ΔAmiA/ΔAliA/ΔAliB + AliA Ligand", H_PURPLE, H_LIG_ERR, "#aa33dd", "triangle-up"),
                 ("D39 ΔAmiA/ΔAliA/ΔAliB + AliB Ligand", H_BLUE, H_LIG_ERR, BLUE, "triangle-down")]),
    dict(letter="I", letter_xy=(5, 908), box=(41, 295, 904, 1068), bold=True, tick=6,
         ytitle=("OD<sub>450</sub>nm", 13, 982, 8), xtitle=(170, 1085, 7.8),
         legend=(168, 174, 942, 9.4, 8, 0), msize=6,
         series=[("106.66 control", I_CTRL, I_CTRL_ERR, BLACK, "hexagon"),
                 ("106.66 + AmiA Ligand", I_RED, I_RED_ERR, RED, "square"),
                 ("106.66 + AliA Ligand", I_ALIA, I_ALIA_ERR, "#bb44dd", "triangle-up"),
                 ("106.66 + AliB Ligand", I_ALIB, I_ALIB_ERR, "#1a1ab8", "triangle-down")]),
    dict(letter="J", letter_xy=(330, 909), box=(387, 642, 909, 1069), bold=True, tick=6,
         ytitle=("OD<sub>450</sub>nm", 358, 988, 8), xtitle=(515, 1085, 7.8),
         legend=(509, 515, 932, 10.3, 8, 0.1), msize=6,
         series=[("110.58 control", J_CTRL, J_CTRL_ERR, BLACK, "hexagon"),
                 ("110.58 + AmiA Ligand", J_RED, J_RED_ERR, RED, "square"),
                 ("110.58 + AliA Ligand", J_ALIA, J_ALIB_ERR, "#bb44dd", "triangle-up"),
                 ("110.58 + AliB Ligand", J_ALIB, J_ALIB_ERR, "#1a1ab8", "triangle-down")]),
]


def px(x):
    return x / W


def py(y):
    return 1 - y / H


def txt(s, bold):
    return f"<b>{s}</b>" if bold else s


def note(x, y, text, size, color="black", family=SERIF, xanchor="center", **kw):
    return dict(x=px(x), y=py(y), xref="paper", yref="paper", xanchor=xanchor,
                yanchor="middle", text=text, showarrow=False, borderpad=0,
                font=dict(family=family, size=size, color=color), **kw)


fig = go.Figure()
ann = []

for i, p in enumerate(PANELS):
    sfx = "" if i == 0 else str(i + 1)
    x0, x1, yt, yb = p["box"]
    tickfont = dict(family=SERIF, size=p["tick"], color="black", weight="bold")
    fig.update_layout({
        f"xaxis{sfx}": dict(
            domain=[px(x0), px(x1)], anchor=f"y{sfx}", range=[0, 22],
            tickvals=X_TICKS, ticks="outside", ticklen=3, tickwidth=1,
            minor=dict(dtick=1, ticks="outside", ticklen=2),
            showline=True, linecolor="black", linewidth=1, showgrid=False,
            zeroline=False, tickfont=tickfont, fixedrange=True),
        f"yaxis{sfx}": dict(
            domain=[py(yb), py(yt)], anchor=f"x{sfx}", range=[0, 0.5],
            tickvals=Y_TICKS, tickformat=".2f", ticks="outside", ticklen=3,
            tickwidth=1, minor=dict(dtick=0.025, ticks="outside", ticklen=1.5),
            showline=True, linecolor="black", linewidth=1, showgrid=False,
            zeroline=False, tickfont=tickfont, fixedrange=True),
    })

    for label, vals, err, color, symbol in p["series"]:
        fig.add_trace(go.Scatter(
            x=TIME[:len(vals)], y=vals, mode="lines+markers",
            xaxis=f"x{sfx}", yaxis=f"y{sfx}", name=label, showlegend=False,
            line=dict(color=color, width=0.8),
            marker=dict(symbol=symbol, size=p["msize"], color=color),
            error_y=dict(type="data", array=err[:len(vals)], color=color,
                         thickness=0.6, width=1.5),
            cliponaxis=False))

    # legend drawn as text, one row per series
    sx, tx, ly, step, fs, ls = p["legend"]
    lbold = p.get("legend_bold", p["bold"])
    for k, (label, vals, err, color, symbol) in enumerate(p["series"]):
        y = ly + k * step
        ann.append(note(sx, y, "─" + GLYPH[symbol] + "─", 5.5, color, "DejaVu Sans"))
        body = f"<span style='letter-spacing:{ls}px'>{label}</span>" if ls else label
        ann.append(note(tx, y, txt(body, lbold), fs, xanchor="left"))

    yt_text, yx, yy, yfs = p["ytitle"]
    ann.append(note(yx, yy, txt(yt_text, p["bold"]), yfs, textangle=-90))
    xx, xy, xfs = p["xtitle"]
    ann.append(note(xx, xy, txt("Time (hours)", p["bold"]), xfs))
    lx, lyy = p["letter_xy"]
    ann.append(note(lx, lyy, "<b>" + p["letter"] + "</b>", 17, family=SANS))

fig.update_layout(
    width=W, height=H, margin=dict(l=0, r=0, t=0, b=0),
    paper_bgcolor="white", plot_bgcolor="white",
    showlegend=False, annotations=ann,
    font=dict(family=SERIF, color="black"),
)

# the page body carries a default margin; drop it so the figure fills the window
fig.write_html("out.html", config={"displayModeBar": False},
               post_script="document.body.style.margin='0';"
                           "document.body.style.overflow='hidden';")
